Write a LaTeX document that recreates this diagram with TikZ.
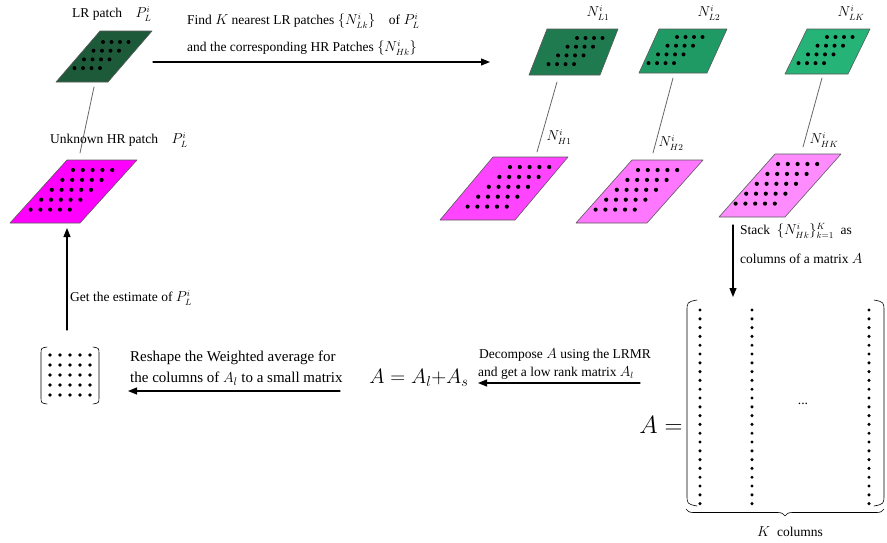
\documentclass[tikz,border=0pt]{standalone}
\usepackage{fontspec}
\setmainfont{Liberation Serif}
\usetikzlibrary{arrows.meta,decorations.pathreplacing}

\definecolor{lrdark}{HTML}{1D5A3A}
\definecolor{nlone}{HTML}{1F7A4F}
\definecolor{nltwo}{HTML}{1F9A64}
\definecolor{nlk}{HTML}{25B377}
\definecolor{hrpink}{HTML}{FF00FF}
\definecolor{nhone}{HTML}{FF44FF}
\definecolor{nhtwo}{HTML}{FF77FF}
\definecolor{nhk}{HTML}{FF8CFF}

% a sheared patch with a 4x4 (LR) or 5x5 (HR) grid of pixels
\newcommand{\lrpatch}[8]{%
  \filldraw[patchline,fill=#6] (#2) coordinate (#1) -- ++(#3,0) -- ++(#4,#5) -- ++(-#3,0) -- cycle;
  \foreach \ri in {0,...,3}
    \foreach \ci in {0,...,3}
      \fill[shift={(#1)}] ({#7+\ci*8.5-\ri*9.5},{#8+\ri*8.7}) circle (2pt);
}
\newcommand{\hrpatch}[8]{%
  \filldraw[patchline,fill=#6] (#2) coordinate (#1) -- ++(#3,0) -- ++(#4,#5) -- ++(-#3,0) -- cycle;
  \foreach \ri in {0,...,4}
    \foreach \ci in {0,...,4}
      \fill[shift={(#1)}] ({#7+\ci*9.8-\ri*10.6},{#8+\ri*9.9}) circle (2.1pt);
}

\tikzset{
  patchline/.style={draw=black!65,line width=0.6pt},
  link/.style={draw=black!60,line width=0.8pt},
  flow/.style={->,line width=1.1pt},
  lbl/.style={inner sep=0pt,font=\fontsize{13.5}{15}\selectfont},
}

\begin{document}
\begin{tikzpicture}[x=1pt,y=-1pt,>={Triangle[length=9pt,width=7pt]},line cap=round,line join=round]
\useasboundingbox (0,0) rectangle (887,542);
% patches
\lrpatch{lr}{100,31}{52}{-44}{51}{lrdark}{3}{11}
\hrpatch{hr}{67,160}{70}{-57}{63}{hrpink}{6}{10}
\lrpatch{nl1}{547,29}{71}{-18}{46}{nlone}{30}{9}
\lrpatch{nl2}{659,29}{68}{-20}{44}{nltwo}{18}{8}
\lrpatch{nlk}{807,29}{63}{-22}{45}{nlk}{20}{8}
\hrpatch{nh1}{493,157}{75}{-53}{63}{nhone}{17}{10}
\hrpatch{nh2}{632,160}{71}{-56}{63}{nhtwo}{6}{10}
\hrpatch{nhk}{775,154}{66}{-56}{63}{nhk}{3}{10}

% patch pairs
\coordinate (lr-a) at (94,87);
\coordinate (hr-a) at (80,153);
\coordinate (nl1-a) at (557,82);
\coordinate (nh1-a) at (537,152);
\coordinate (nl2-a) at (673,78);
\coordinate (nh2-a) at (653,153);
\coordinate (nlk-a) at (822,78);
\coordinate (nhk-a) at (803,147);
\draw[link] (lr-a) -- (hr-a);
\draw[link] (nl1-a) -- (nh1-a);
\draw[link] (nl2-a) -- (nh2-a);
\draw[link] (nlk-a) -- (nhk-a);

% labels of the patches
\node[lbl,anchor=west] (lrtxt) at (72,14) {LR patch\quad $P_L^i$};
\node[lbl,anchor=west] (hrtxt) at (50,140) {Unknown HR patch\quad $P_L^i$};
\node[lbl] (nl1txt) at (598,13) {$N_{L1}^i$};
\node[lbl] (nl2txt) at (709,13) {$N_{L2}^i$};
\node[lbl] (nlktxt) at (851,13) {$N_{LK}^i$};
\node[lbl] (nh1txt) at (559,137) {$N_{H1}^i$};
\node[lbl] (nh2txt) at (671,143) {$N_{H2}^i$};
\node[lbl] (nhktxt) at (824,140) {$N_{HK}^i$};

% search step
\coordinate (find-s) at (153,62);
\coordinate (find-e) at (490,62);
\draw[flow] (find-s) -- (find-e);
\node[lbl,anchor=west] (find1) at (187,21) {Find $K$ nearest LR patches $\{N_{Lk}^i\}$\quad of $P_L^i$};
\node[lbl,anchor=west] (find2) at (187,48) {and the corresponding HR Patches $\{N_{Hk}^i\}$};

% stacking
\coordinate (stack-s) at (733,225);
\coordinate (stack-e) at (733,297);
\draw[flow] (stack-s) -- (stack-e);
\node[lbl,anchor=west] (stack1) at (740,231) {Stack\enspace $\{N_{Hk}^i\}_{k=1}^K$\enspace as};
\node[lbl,anchor=west] (stack2) at (740,259) {columns of a matrix $A$};

% the matrix A
\node[lbl,font=\fontsize{28}{30}\selectfont] (aeq) at (661,425) {$A=$};
\draw[line width=0.6pt] (697,300) .. controls (687,302) .. (687,312) -- (687,494) .. controls (687,504) .. (697,506);
\draw[line width=0.6pt] (874,300) .. controls (884,302) .. (884,312) -- (884,494) .. controls (884,504) .. (874,506);
\foreach \xc in {700,752,869}
  \foreach \yc in {0,...,22}
    \fill (\xc,{310+\yc*8.8}) circle (1.7pt);
\node[lbl] (adots) at (803,404) {...};
\draw[decorate,decoration={brace,mirror,amplitude=7pt},line width=0.6pt] (686,509) -- (884,509);
\node[lbl] (kcols) at (790,532) {$K$\enspace columns};

% decomposition
\coordinate (dec-s) at (640,383);
\coordinate (dec-e) at (478,383);
\draw[flow] (dec-s) -- (dec-e);
\node[lbl,anchor=west] (dec1) at (479,355) {Decompose $A$ using the LRMR};
\node[lbl,anchor=west] (dec2) at (478,373) {and get a low rank matrix $A_l$};
\node[lbl,font=\fontsize{21}{24}\selectfont] (sum) at (419,378) {$A=A_l{+}A_s$};

% reshape
\coordinate (rs-s) at (340,391);
\coordinate (rs-e) at (128,391);
\draw[flow] (rs-s) -- (rs-e);
\node[lbl,anchor=west,font=\fontsize{15}{17}\selectfont] (rs1) at (130,358) {Reshape the Weighted average for};
\node[lbl,anchor=west,font=\fontsize{15}{17}\selectfont] (rs2) at (130,379) {the columns of $A_l$ to a small matrix};

% small matrix
\draw[line width=0.6pt] (47,347) .. controls (41,348) .. (41,354) -- (41,397) .. controls (41,403) .. (47,404);
\draw[line width=0.6pt] (93,347) .. controls (99,348) .. (99,354) -- (99,397) .. controls (99,403) .. (93,404);
\foreach \xc in {0,...,4}
  \foreach \yc in {0,...,4}
    \fill ({50+\xc*10},{355+\yc*10}) circle (1.9pt);

% back to the HR patch
\coordinate (est-s) at (67,330);
\coordinate (est-e) at (67,228);
\draw[flow] (est-s) -- (est-e);
\node[lbl,anchor=west] (est) at (70,298) {Get the estimate of $P_L^i$};
\end{tikzpicture}
\end{document}
